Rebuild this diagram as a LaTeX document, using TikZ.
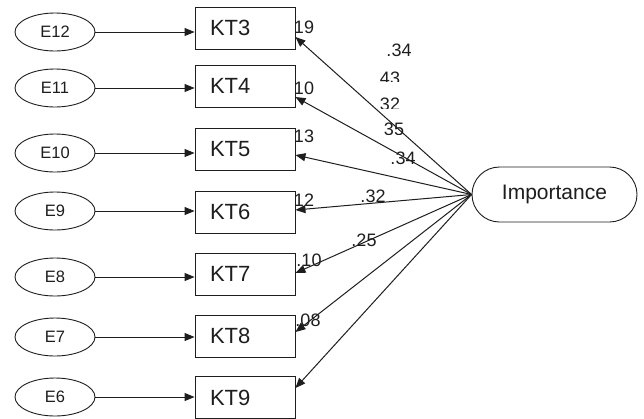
\documentclass[tikz,border=0pt]{standalone}
\usepackage{fontspec}
\setmainfont{Liberation Sans}
\usetikzlibrary{arrows.meta,shapes.geometric}
\definecolor{ink}{HTML}{1E1E1E}
\begin{document}
\begin{tikzpicture}[x=1pt,y=-1pt,
  errnode/.style={ellipse, draw=ink, line width=0.9pt, minimum width=80pt,
    minimum height=38pt, inner sep=0pt, text=ink,
    font=\fontsize{16.5}{17}\selectfont},
  obsbox/.style={rectangle, draw=ink, line width=0.9pt, fill=white,
    minimum height=42pt, text width=70pt, align=left, inner xsep=15pt,
    inner ysep=0pt, text=ink, font=\fontsize{22}{24}\selectfont},
  latent/.style={rectangle, rounded corners=27.5pt, draw=ink, line width=0.9pt,
    minimum width=165pt, minimum height=55pt, inner sep=0pt, text=ink,
    font=\fontsize{21}{24}\selectfont},
  coef/.style={inner sep=0pt, text=ink, font=\fontsize{18}{19}\selectfont},
  link/.style={draw=ink, line width=1pt, -{Triangle[length=10pt,width=8pt]}}
]
\fill[white] (0,0) rectangle (644,418);
\useasboundingbox (0,0) rectangle (644,418);

% error terms
\node[errnode] (E12) at (55,32)  {E12\hspace{12pt}};
\node[errnode] (E11) at (55,88)  {E11\hspace{12pt}};
\node[errnode] (E10) at (55,153) {E10\hspace{12pt}};
\node[errnode] (E9)  at (55,211) {E9\hspace{12pt}};
\node[errnode] (E8)  at (55,277) {E8\hspace{12pt}};
\node[errnode] (E7)  at (55,337) {E7\hspace{12pt}};
\node[errnode] (E6)  at (55,397) {E6\hspace{12pt}};

% observed indicators
\node[obsbox] (KT3) at (245,28)    {KT3};
\node[obsbox] (KT4) at (245,86)    {KT4};
\node[obsbox] (KT5) at (245,149)   {KT5};
\node[obsbox] (KT6) at (245,212)   {KT6};
\node[obsbox] (KT7) at (245,274)   {KT7};
\node[obsbox] (KT8) at (245,336)   {KT8};
\node[obsbox] (KT9) at (245,397.5) {KT9};

% latent factor
\node[latent] (Imp) at (554.5,194.5) {Importance\hspace{18pt}};

% coefficients beside the indicators
\node[coef] (c3) at (304,27)  {19};
\node[coef] (c4) at (304,88)  {10};
\node[coef] (c5) at (304,136) {13};
\node[coef] (c6) at (304,200) {12};
\node[coef] (c7) at (309,260) {.10};
\node[coef] (c8) at (308,320) {.08};

% coefficients along the paths
\node[coef] (p1) at (399,50)  {.34};
\begin{scope}
  \clip (370,60) rectangle (420,81);
  \node[coef] (p2) at (390,78) {43};
\end{scope}
\begin{scope}
  \clip (370,90) rectangle (420,108.5);
  \node[coef] (p3) at (390,104.5) {32};
\end{scope}
\begin{scope}
  \clip (370,115) rectangle (420,134);
  \node[coef] (p4) at (394,129.5) {35};
\end{scope}
\node[coef] (p5) at (403,158) {.34};
\node[coef] (p6) at (373,196) {.32};
\node[coef] (p7) at (364,240) {.25};

% error arrows
\draw[link] (E12) -- (E12 -| KT3.west);
\draw[link] (E11) -- (E11 -| KT4.west);
\draw[link] (E10) -- (E10 -| KT5.west);
\draw[link] (E9)  -- (E9 -| KT6.west);
\draw[link] (E8)  -- (E8 -| KT7.west);
\draw[link] (E7)  -- (E7 -| KT8.west);
\draw[link] (E6)  -- (E6 -| KT9.west);

% factor loadings
\draw[link] (Imp.west) -- ([yshift=-9pt]KT3.east);
\draw[link] (Imp.west) -- ([yshift=-11pt]KT4.east);
\draw[link] (Imp.west) -- ([yshift=-6pt]KT5.east);
\draw[link] (Imp.west) -- ([yshift=2pt]KT6.east);
\draw[link] (Imp.west) -- ([yshift=1pt]KT7.east);
\draw[link] (Imp.west) -- ([yshift=4pt]KT8.east);
\draw[link] (Imp.west) -- ([yshift=9.5pt]KT9.east);
\end{tikzpicture}
\end{document}
